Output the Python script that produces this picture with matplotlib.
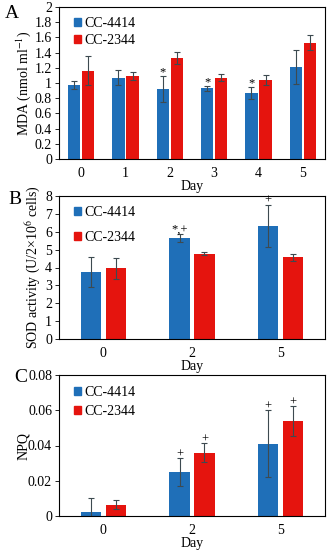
import matplotlib.pyplot as plt
import numpy as np
from matplotlib.ticker import FuncFormatter
from matplotlib.patches import Patch

plt.rcParams["font.family"] = ["Liberation Serif", "DejaVu Serif"]
plt.rcParams["mathtext.fontset"] = "stix"

BLUE = "#1f6fb8"
RED = "#e5140e"
ERR = "#3d4a50"

# Panel A: MDA
days_a = ["0", "1", "2", "3", "4", "5"]
mda_4414 = [0.97, 1.07, 0.92, 0.93, 0.87, 1.21]
mda_4414_err = [0.05, 0.10, 0.17, 0.03, 0.08, 0.22]
mda_2344 = [1.16, 1.09, 1.33, 1.07, 1.04, 1.53]
mda_2344_err = [0.19, 0.05, 0.08, 0.05, 0.06, 0.10]
mda_marks_4414 = ["", "", "*", "*", "*", ""]
mda_marks_2344 = ["", "", "", "", "", ""]

# Panel B: SOD
days_bc = ["0", "2", "5"]
sod_4414 = [3.75, 5.65, 6.32]
sod_4414_err = [0.85, 0.25, 1.2]
sod_2344 = [3.95, 4.78, 4.58]
sod_2344_err = [0.6, 0.1, 0.2]
sod_marks_4414 = ["", "*,+", "+"]
sod_marks_2344 = ["", "", ""]

# Panel C: NPQ
npq_4414 = [0.0025, 0.025, 0.041]
npq_4414_err = [0.0075, 0.008, 0.019]
npq_2344 = [0.0065, 0.036, 0.054]
npq_2344_err = [0.0025, 0.0055, 0.0085]
npq_marks_4414 = ["", "+", "+"]
npq_marks_2344 = ["", "+", "+"]

fig = plt.figure(figsize=(3.31, 5.5), dpi=100)

W, H = 331, 550
FS = 10


def add_ax(left, top, right, bottom):
    return fig.add_axes([left / W, 1 - bottom / H, (right - left) / W, (bottom - top) / H])


def panel(ax, cats, v1, e1, v2, e2, m1, m2, ylim, yticks, ylabel, ylpad, letter, letter_xy,
          width, off, lspace, lanchor):
    x = np.arange(len(cats))
    ekw = dict(ecolor=ERR, elinewidth=0.8, capsize=2, capthick=0.8)
    ax.bar(x - off, v1, width, color=BLUE, yerr=e1, error_kw=ekw)
    ax.bar(x + off, v2, width, color=RED, yerr=e2, error_kw=ekw)
    for xs, vals, errs, marks in [(x - off, v1, e1, m1), (x + off, v2, e2, m2)]:
        for xi, v, e, m in zip(xs, vals, errs, marks):
            if m:
                ax.annotate(m, (xi, v + e), xytext=(0, 2.5), textcoords="offset points",
                            ha="center", va="center", fontsize=9)
    ax.set_xlim(-0.5, len(cats) - 0.5)
    ax.set_ylim(*ylim)
    ax.set_yticks(yticks)
    ax.yaxis.set_major_formatter(FuncFormatter(lambda v, p: "%g" % round(v, 4)))
    ax.set_xticks(x)
    ax.set_xticklabels(cats)
    ax.tick_params(axis="x", length=0, labelsize=FS, pad=6)
    ax.tick_params(axis="y", length=3, width=0.6, labelsize=FS, pad=2)
    for s in ax.spines.values():
        s.set_linewidth(0.8)
    ax.set_xlabel("Day", fontsize=FS, labelpad=0)
    ax.set_ylabel(ylabel, fontsize=FS, labelpad=ylpad)
    handles = [Patch(color=BLUE, label="CC-4414"), Patch(color=RED, label="CC-2344")]
    ax.legend(handles=handles, loc="upper left", frameon=False, fontsize=FS,
              handlelength=0.5, handleheight=0.5, handletextpad=0.25, labelspacing=lspace,
              bbox_to_anchor=lanchor, borderaxespad=0.3)
    fig.text(letter_xy[0] / W, 1 - letter_xy[1] / H, letter, fontsize=14,
             ha="left", va="center")


ax_a = add_ax(59, 7, 325, 159)
panel(ax_a, days_a, mda_4414, mda_4414_err, mda_2344, mda_2344_err,
      mda_marks_4414, mda_marks_2344, (0, 2), np.arange(0, 2.01, 0.2),
      "MDA (nmol ml$^{-1}$)", 1, "A", (5, 13), 0.28, 0.16, 0.3, (0.02, 1.0))

ax_b = add_ax(59, 196, 325, 339)
panel(ax_b, days_bc, sod_4414, sod_4414_err, sod_2344, sod_2344_err,
      sod_marks_4414, sod_marks_2344, (0, 8), np.arange(0, 9, 1),
      "SOD activity (U/2\u00d710$^6$ cells)", 1.5, "B", (8, 200), 0.23, 0.14, 0.9, (0.02, 1.0))

ax_c = add_ax(59, 375, 325, 516)
panel(ax_c, days_bc, npq_4414, npq_4414_err, npq_2344, npq_2344_err,
      npq_marks_4414, npq_marks_2344, (0, 0.08), np.arange(0, 0.081, 0.02),
      "NPQ", -1.5, "C", (14, 378), 0.23, 0.14, 0.4, (0.02, 0.99))

fig.savefig("out.png", dpi=100)
